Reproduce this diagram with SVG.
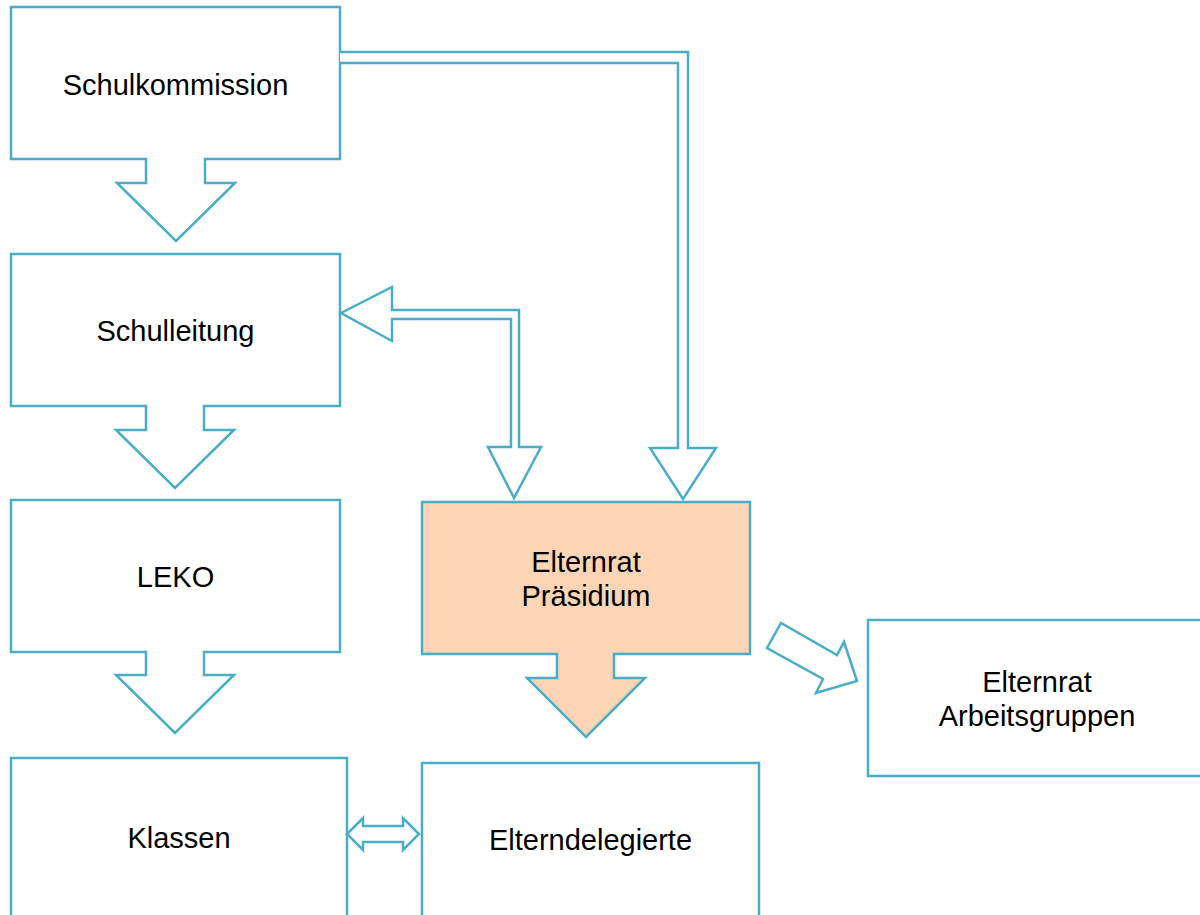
<svg xmlns="http://www.w3.org/2000/svg" width="1200" height="915" viewBox="0 0 1200 915">
<style>
.n{fill:#ffffff;stroke:#4BACC6;stroke-width:2.5;stroke-linejoin:miter}
.o{fill:#FBD5B5;stroke:#4BACC6;stroke-width:2.5}
.c{fill:#ffffff;stroke:#4BACC6;stroke-width:2.5;stroke-linejoin:miter}
.t{font-family:"Liberation Sans",Arial,sans-serif;font-size:29px;fill:#000000;text-anchor:middle}
</style>
<rect width="1200" height="915" fill="#ffffff"/>
<g id="schulkommission">
<path class="n" d="M11,7 H340 V159 H205 V183 H235 L176,241 L117,183 H146 V159 H11 Z"/>
<text class="t" x="175.5" y="95">Schulkommission</text>
</g>
<g id="schulleitung">
<path class="n" d="M11,254 H340 V406 H204 V430 H234 L175,488 L116,430 H146 V406 H11 Z"/>
<text class="t" x="175.5" y="341">Schulleitung</text>
</g>
<g id="leko">
<path class="n" d="M11,500 H340 V652 H204 V675 H234 L175,733 L116,675 H146 V652 H11 Z"/>
<text class="t" x="175.5" y="587">LEKO</text>
</g>
<g id="klassen">
<rect class="n" x="11" y="758" width="336" height="170"/>
<text class="t" x="179" y="848">Klassen</text>
</g>
<g id="elternrat-praesidium">
<path class="o" d="M422,502 H750 V654 H614 V678 H645 L586,737 L527,678 H557 V654 H422 Z"/>
<text class="t" x="586" y="572">Elternrat</text>
<text class="t" x="586" y="606">Präsidium</text>
</g>
<g id="elterndelegierte">
<rect class="n" x="422" y="763" width="337" height="170"/>
<text class="t" x="590.5" y="850">Elterndelegierte</text>
</g>
<g id="elternrat-arbeitsgruppen">
<rect class="n" x="868" y="620" width="340" height="156"/>
<text class="t" x="1037" y="692">Elternrat</text>
<text class="t" x="1037" y="726">Arbeitsgruppen</text>
</g>
<g id="connectors">
<path class="c" d="M340,52 H688 V448 H716 L683,499 L650,448 H678 V63 H340"/>
<path class="c" d="M341,313 L392,287 V310 H519 V447 H541 L514,498 L488,447 H511 V319 H392 V341 Z"/>
<path class="c" d="M767,648 L781,623 L837,655 L844,642 L857,681 L816,693 L823,679 Z"/>
<path class="c" d="M347,834 L363,818 V826 H403 V818 L419,834 L403,850 V842 H363 V850 Z"/>
</g>
</svg>
